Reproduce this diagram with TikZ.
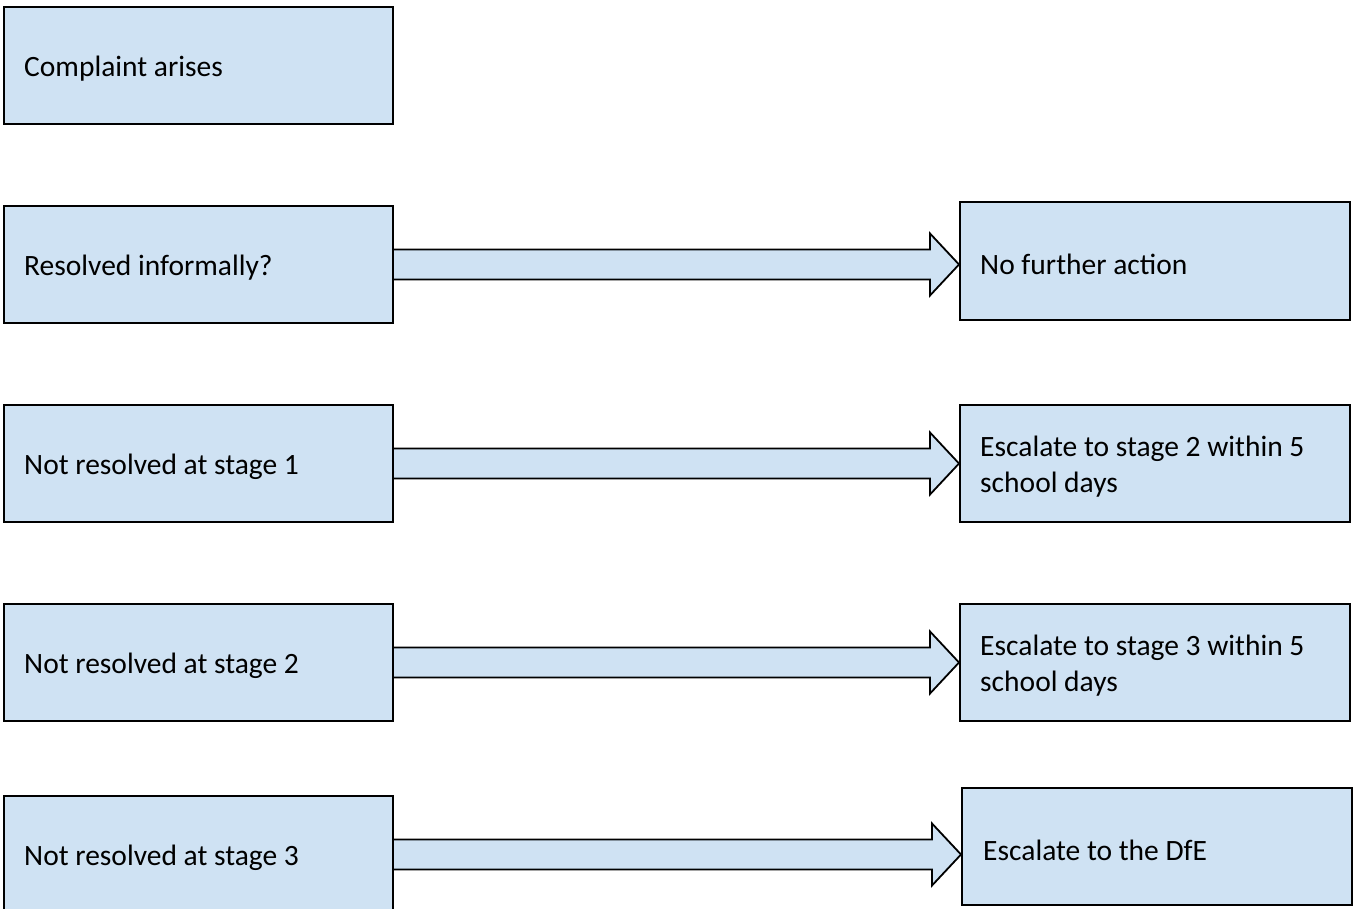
\documentclass[tikz,border=0pt]{standalone}
\usepackage{fontspec}
\setmainfont{Carlito}
\usetikzlibrary{calc}
\definecolor{boxfill}{HTML}{CFE2F3}
\tikzset{
 box/.style={draw=black, fill=boxfill, line width=2pt, rectangle, inner sep=0pt},
 lbl/.style={anchor=west, align=left, font=\fontsize{29.5}{36}\selectfont, inner sep=0pt},
 fatarrow/.style={draw=black, fill=boxfill, line width=1.8pt, line join=miter}
}
\newcommand\pbox[5]{\node[box, minimum width={#4-#2}, minimum height={#5-#3}] (#1) at ({(#2+#4)/2},{(#3+#5)/2}) {};}
\newcommand\fatarr[2]{\path[fatarrow] let \p1=(#1.east), \p2=(#2.west) in
  (\x1,\y1+15) -- (\x2-29,\y1+15) -- (\x2-29,\y1+31) -- (\x2,\y1) -- (\x2-29,\y1-31) -- (\x2-29,\y1-15) -- (\x1,\y1-15);}
\begin{document}
\begin{tikzpicture}[x=1pt,y=-1pt]
\useasboundingbox (0,0) rectangle (1358,909);
\clip (0,0) rectangle (1358,909);
\fill[white] (0,0) rectangle (1358,909);
% left boxes
\pbox{L1}{4}{7}{393}{124}
\pbox{L2}{4}{206}{393}{323}
\pbox{L3}{4}{405}{393}{522}
\pbox{L4}{4}{604}{393}{721}
\pbox{L5}{4}{796}{393}{913}
% right boxes
\pbox{R2}{960}{202}{1350}{320}
\pbox{R3}{960}{405}{1350}{522}
\pbox{R4}{960}{604}{1350}{721}
\pbox{R5}{962}{788}{1352}{905}
% labels
\node[lbl] (t1) at ($(L1.west)+(21,3.5)$) {Complaint arises};
\node[lbl] (t2) at ($(L2.west)+(21,3.5)$) {Resolved informally?};
\node[lbl] (t3) at ($(L3.west)+(21,3.5)$) {Not resolved at stage 1};
\node[lbl] (t4) at ($(L4.west)+(21,3.5)$) {Not resolved at stage 2};
\node[lbl] (t5) at ($(L5.west)+(21,3.5)$) {Not resolved at stage 3};
\node[lbl] (u2) at ($(R2.west)+(21,3.5)$) {No further action};
\node[lbl] (u3) at ($(R3.west)+(21,3.5)$) {Escalate to stage 2 within 5\\school days};
\node[lbl] (u4) at ($(R4.west)+(21,3.5)$) {Escalate to stage 3 within 5\\school days};
\node[lbl] (u5) at ($(R5.west)+(22,3.5)$) {Escalate to the DfE};
% arrows
\fatarr{L2}{R2}
\fatarr{L3}{R3}
\fatarr{L4}{R4}
\fatarr{L5}{R5}
\end{tikzpicture}
\end{document}
